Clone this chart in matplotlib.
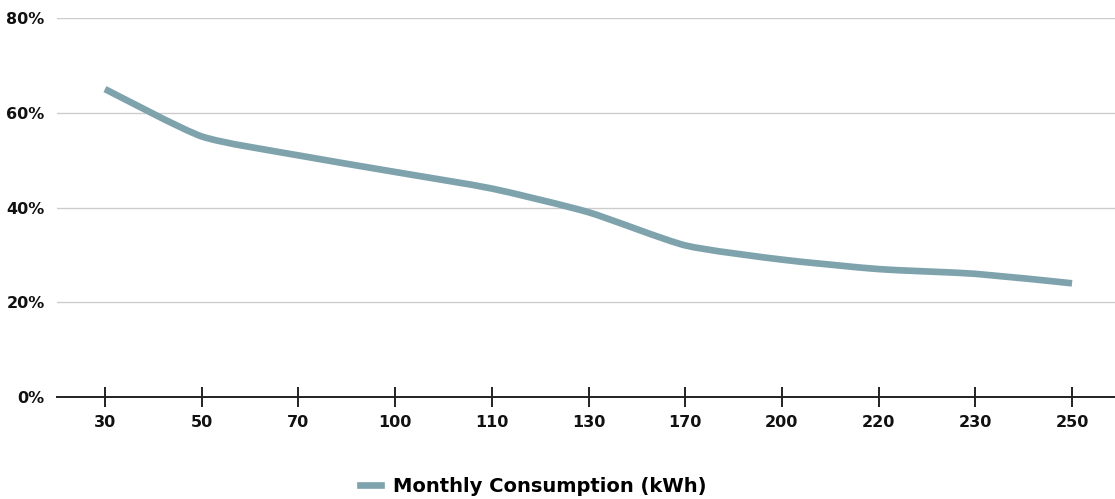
import matplotlib
matplotlib.use('Agg')
import matplotlib.pyplot as plt
from matplotlib.path import Path
from matplotlib.patches import PathPatch
from matplotlib.lines import Line2D
import numpy as np

categories = ['30', '50', '70', '100', '110', '130', '170', '200', '220', '230', '250']
share = [65, 55, 51, 47.5, 44, 39, 32, 29, 27, 26, 24]
series_name = 'Monthly Consumption (kWh)'
y_ticks = [0, 20, 40, 60, 80]
y_labels = ['0%', '20%', '40%', '60%', '80%']

line_color = '#7fa3ad'

plt.rcParams['font.family'] = ['DejaVu Sans']
plt.rcParams['font.weight'] = 'bold'


def smooth_path(xs, ys, tension=0.1):
    """Build a cubic Bezier path passing through every point."""
    xs = np.asarray(xs, float)
    ys = np.asarray(ys, float)
    verts = [(xs[0], ys[0])]
    codes = [Path.MOVETO]
    n = len(xs)
    for i in range(n - 1):
        p0 = i - 1 if i > 0 else i
        p3 = i + 2 if i + 2 < n else i + 1
        c1 = (xs[i] + (xs[i + 1] - xs[p0]) * tension, ys[i] + (ys[i + 1] - ys[p0]) * tension)
        c2 = (xs[i + 1] - (xs[p3] - xs[i]) * tension, ys[i + 1] - (ys[p3] - ys[i]) * tension)
        verts += [c1, c2, (xs[i + 1], ys[i + 1])]
        codes += [Path.CURVE4] * 3
    return Path(verts, codes)


fig = plt.figure(figsize=(11.15, 4.99), dpi=100)
ax = fig.add_axes([57 / 1115, 1 - 397 / 499, 1 - 57 / 1115, (397 - 18) / 499])

x = np.arange(len(categories))
ax.add_patch(PathPatch(smooth_path(x, share), facecolor='none', edgecolor=line_color,
                       lw=4.8, capstyle='butt', joinstyle='round', zorder=3))

ax.set_xlim(-0.496, 10.444)
ax.set_ylim(0, 80)
ax.set_xticks(x)
ax.set_xticklabels(categories)
ax.set_yticks(y_ticks)
ax.set_yticklabels(y_labels)

for s in ['top', 'right', 'left']:
    ax.spines[s].set_visible(False)
ax.spines['bottom'].set_linewidth(1.4)
ax.spines['bottom'].set_color('#222222')
ax.spines['bottom'].set_zorder(4)

ax.yaxis.grid(True, color='#cccccc', linewidth=1.0)
ax.set_axisbelow(True)
ax.tick_params(axis='y', length=0, pad=9, labelsize=11.5, labelcolor='#111111')
ax.tick_params(axis='x', direction='inout', length=14.4, width=1.4, color='#222222',
               pad=6, labelsize=11.5, labelcolor='#111111')

handle = Line2D([], [], color=line_color, lw=4.8)
fig.legend([handle], [series_name], loc='center', bbox_to_anchor=(533 / 1115, 1 - 486 / 499),
           frameon=False, fontsize=14, handlelength=1.1, handletextpad=0.6)

fig.savefig('out.png', dpi=100)
